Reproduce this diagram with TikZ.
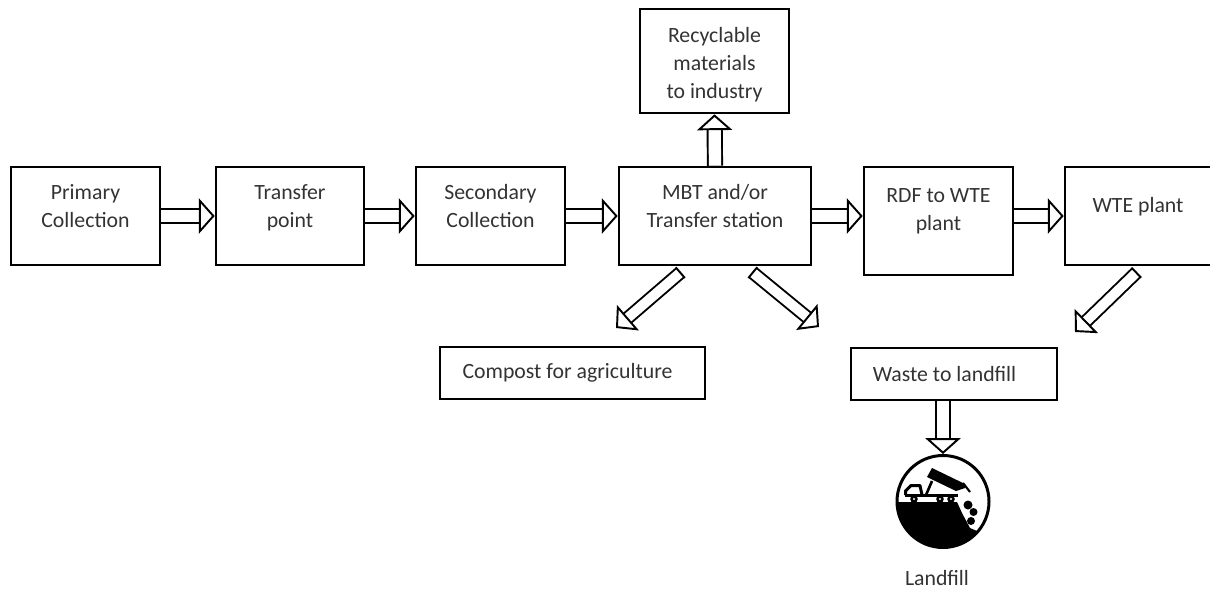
\documentclass[tikz,border=0pt]{standalone}
\usepackage{fontspec}
\setmainfont{Carlito}
\usetikzlibrary{arrows.meta}
\tikzset{
  boxnode/.style={draw=black, line width=1.5pt, align=center, text=black!80, inner sep=0pt, font=\fontsize{12.4}{16}\selectfont},
  labelnode/.style={align=center, text=black!80, inner sep=0pt, font=\fontsize{12.4}{16}\selectfont},
  hollow/.style={line width=1.1pt, double=white, double distance=7pt, -{Triangle[fill=white, length=9pt, width=20pt, line width=1.1pt]}},
  hollowbar/.style={hollow, double distance=5.6pt, {Bar[width=8pt, line width=1.1pt]}-{Triangle[fill=white, length=9pt, width=19pt, line width=1.1pt]}},
}
\begin{document}
\begin{tikzpicture}[x=0.02cm, y=-0.02cm]
  \useasboundingbox (0,0) rectangle (1210,589);
  % boxes
  \node[boxnode, minimum width=149*0.02cm, minimum height=98*0.02cm, text depth=11.7pt] (primary) at (85.5,216) {Primary\\Collection};
  \node[boxnode, minimum width=148*0.02cm, minimum height=98*0.02cm, text depth=11.7pt] (transfer) at (290,216) {Transfer\\point};
  \node[boxnode, minimum width=149*0.02cm, minimum height=98*0.02cm, text depth=11.7pt] (secondary) at (490.5,216) {Secondary\\Collection};
  \node[boxnode, minimum width=192*0.02cm, minimum height=98*0.02cm, text depth=11.7pt] (mbt) at (715,216) {MBT and/or\\Transfer station};
  \node[boxnode, minimum width=149*0.02cm, minimum height=104*0.02cm] (recyclable) at (714.5,61) {\rule{0pt}{13pt}Recyclable\\materials\\to industry};
  \node[boxnode, minimum width=149*0.02cm, minimum height=108*0.02cm, text depth=13pt] (rdf) at (938.5,221) {RDF to WTE\\plant};
  \node[boxnode, minimum width=150*0.02cm, minimum height=98*0.02cm, text depth=13pt] (wte) at (1140,216) {\hspace*{-0.08cm}WTE plant};
  \node[boxnode, minimum width=265*0.02cm, minimum height=52*0.02cm] (compost) at (572.5,373) {Compost for agriculture\hspace*{0.2cm}};
  \node[boxnode, minimum width=206*0.02cm, minimum height=52*0.02cm] (waste) at (954,374) {Waste to landfill\hspace*{0.38cm}};
  % landfill icon
  \node[circle, draw=black, line width=1.7pt, fill=white, minimum size=92*0.02cm, inner sep=0pt] (icon) at (943,501.5) {};
  \begin{scope}
    \clip (icon.center) circle (45.5);
    \fill[black] (890,502) -- (957,502) -- (962,513) -- (970,528) -- (977,531) -- (995,540) -- (990,560) -- (890,560) -- cycle;
  \end{scope}
  \fill[black] (932,468) -- (927,477) -- (956,491) -- (965,488) -- (965,484) -- cycle;
  \draw[black, line width=1.2pt] (963,483) -- (970,492);
  \draw[black, line width=1.7pt, line join=round] (905.5,495) -- (905.5,491) -- (911,485.5) -- (920,485.5) -- (922,495);
  \draw[black, line width=1.8pt] (905,495.5) -- (958,495.5);
  \draw[black, line width=1.5pt] (926,495) -- (932,481);
  \foreach \wx in {914,940,951} {
    \fill[black] (\wx,499) circle (3.8);
    \fill[white] (\wx,499) circle (1.2);
  }
  \fill[black] (968,505) circle (4.5);
  \fill[black] (973.5,512) circle (4);
  \fill[black] (971,521) circle (4);
  \node[labelnode] (landfill) at (937,578) {Landfill};
  % free ends
  \coordinate (mbtleft) at (681,272);
  \coordinate (compostend) at (616,328);
  \coordinate (mbtright) at (752,272);
  \coordinate (rightend) at (819,327);
  \coordinate (wteleft) at (1137,272);
  \coordinate (wasteend) at (1075,332);
  % arrows
  \draw[hollow] (primary.east) -- (transfer.west);
  \draw[hollow] (transfer.east) -- (secondary.west);
  \draw[hollow] (secondary.east) -- (mbt.west);
  \draw[hollow] (mbt.east) -- (rdf.west |- mbt.east);
  \draw[hollow] (rdf.east |- wte.west) -- (wte.west);
  \draw[hollow] (mbt.north) -- (recyclable.south);
  \draw[hollow] (waste.south -| icon.north) -- (icon.north);
  \draw[hollowbar] (mbtleft) -- (compostend);
  \draw[hollowbar] (mbtright) -- (rightend);
  \draw[hollowbar] (wteleft) -- (wasteend);
\end{tikzpicture}
\end{document}
